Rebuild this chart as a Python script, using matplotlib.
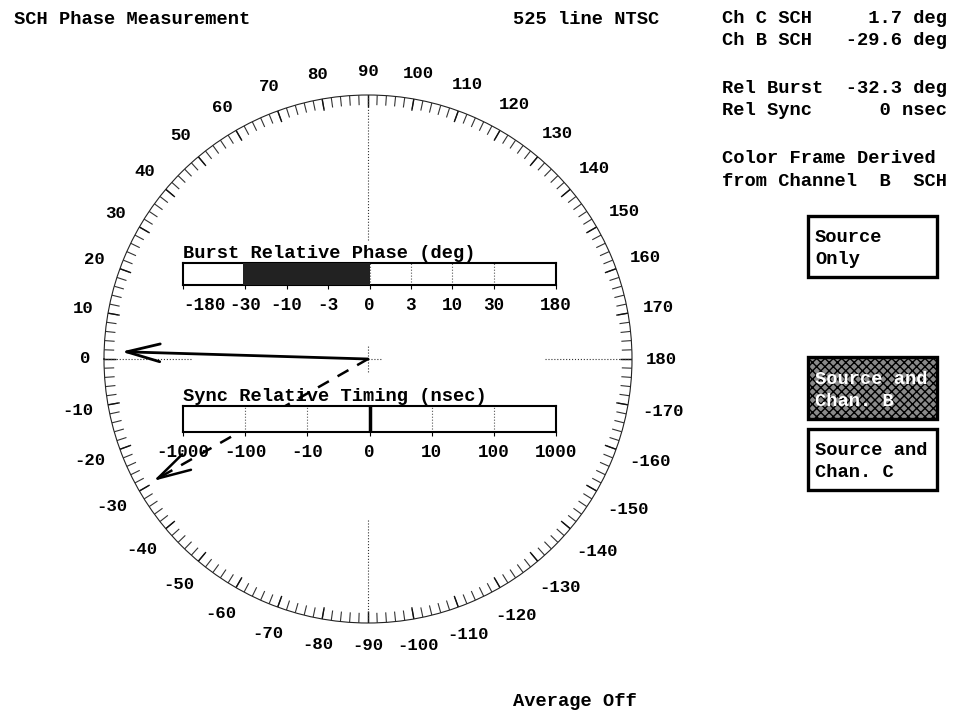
import numpy as np
import matplotlib
matplotlib.use("Agg")
import matplotlib.pyplot as plt
from matplotlib.patches import Rectangle

# ---------------- data ----------------
dial_major = list(range(-170, 181, 10))          # labelled angles (deg)
dial_minor = list(range(-178, 181, 2))           # small ticks every 2 deg
ch_c_sch = 1.7                                   # deg, solid vector
ch_b_sch = -29.6                                 # deg, dashed vector
rel_burst = -32.3                                # deg
rel_sync = 0                                     # nsec
burst_ticks = [-180, -30, -10, -3, 0, 3, 10, 30, 180]
burst_pos = [-4.5, -3, -2, -1, 0, 1, 2, 3, 4.5]
sync_ticks = [-1000, -100, -10, 0, 10, 100, 1000]
sync_pos = [-3, -2, -1, 0, 1, 2, 3]
readout_lines = ["Ch C SCH     1.7 deg",
                 "Ch B SCH   -29.6 deg",
                 "Rel Burst  -32.3 deg",
                 "Rel Sync      0 nsec",
                 "Color Frame Derived",
                 "from Channel  B  SCH"]
buttons = [["Source", "Only"], ["Source and", "Chan. B"], ["Source and", "Chan. C"]]
button_active = [False, True, False]

# ---------------- style ----------------
plt.rcParams['font.family'] = ['Liberation Mono', 'DejaVu Sans Mono']
plt.rcParams['font.weight'] = 'bold'
FS = 13.5

W, H = 965, 713
fig = plt.figure(figsize=(W / 100, H / 100), dpi=100)

# overlay axes in pixel coordinates for free text / buttons
ov = fig.add_axes([0, 0, 1, 1])
ov.set_xlim(0, W)
ov.set_ylim(H, 0)
ov.axis('off')

ov.text(14, 24, "SCH Phase Measurement", fontsize=FS, va='baseline', ha='left')
ov.text(586, 24, "525 line NTSC", fontsize=FS, va='baseline', ha='center')
ov.text(513, 706, "Average Off", fontsize=FS, va='baseline', ha='left')

readout_y = [23, 45, 93, 115, 163, 186]
for s, y in zip(readout_lines, readout_y):
    ov.text(722, y, s, fontsize=FS, va='baseline', ha='left')

button_boxes = [(216, 277), (357, 419), (429, 490)]
for (y0, y1), lines, act in zip(button_boxes, buttons, button_active):
    ov.add_patch(Rectangle((808, y0), 129, y1 - y0,
                           facecolor='#8a8a8a' if act else 'white',
                           edgecolor='black', lw=2.4, hatch='xxxx' if act else None,
                           zorder=2))
    dy = (y1 - y0)
    ov.text(815, y0 + dy * 0.43, lines[0], fontsize=FS, va='baseline',
            color='white' if act else 'black', zorder=3)
    ov.text(815, y0 + dy * 0.79, lines[1], fontsize=FS, va='baseline',
            color='white' if act else 'black', zorder=3)

# ---------------- dial (polar) ----------------
cx, cy, R = 368, 359, 264
pax = fig.add_axes([(cx - R) / W, (H - cy - R) / H, 2 * R / W, 2 * R / H],
                   projection='polar')
pax.set_theta_zero_location('W')
pax.set_theta_direction(-1)
pax.set_ylim(0, 1)
pax.set_facecolor('none')
pax.grid(False)
pax.set_xticks([])
pax.set_yticks([])
pax.spines['polar'].set_linewidth(0.8)
pax.spines['polar'].set_color('#222222')

th_minor = np.deg2rad(dial_minor)
th_major = np.deg2rad(dial_major)
pax.vlines(th_minor, 0.962, 1.0, colors='#333333', lw=0.8)
pax.vlines(th_major, 0.955, 1.012, colors='#111111', lw=1.0)

for a in dial_major:
    phi = np.deg2rad(180 - a)
    s = str(a)
    w = len(s) * 10.3
    off = 14 + abs(np.cos(phi)) * w / 2 + abs(np.sin(phi)) * 9
    pax.text(np.deg2rad(a), 1 + off / R, s, ha='center', va='center',
             fontsize=12.5, clip_on=False)

# crosshair spokes (dotted)
spoke_dirs = [90, -90, 0, 180]
spoke_inner = [0.45, 0.61, 0.67, 0.67]
for d, r0 in zip(spoke_dirs, spoke_inner):
    pax.vlines(np.deg2rad(d), r0, 1.0, colors='#333333', lw=0.8, linestyles=':')
    pax.vlines(np.deg2rad(d), 0, 0.05, colors='#333333', lw=0.8, linestyles=':')

# vectors
tip = 0.935
pax.annotate('', xy=(np.deg2rad(ch_c_sch), tip), xytext=(0, 0),
             arrowprops=dict(arrowstyle='->,head_length=1.2,head_width=0.32',
                             lw=2.0, color='black', mutation_scale=20,
                             shrinkA=0, shrinkB=0))
thb = np.deg2rad(ch_b_sch)
pax.plot([thb, thb], [0, tip * 0.97], color='black', lw=1.8, ls=(0, (5, 4)))
pax.annotate('', xy=(thb, tip), xytext=(thb, 0.9),
             arrowprops=dict(arrowstyle='->,head_length=1.2,head_width=0.32',
                             lw=1.8, color='black', mutation_scale=20,
                             shrinkA=0, shrinkB=0))


# ---------------- bar scales ----------------
def make_funcs(ticks, pos):
    t = np.array(ticks, float)
    p = np.array(pos, float)
    tp, pp = t[t > 0], p[t > 0]
    first, fpos = tp[0], pp[0]

    def fwd(x):
        x = np.asarray(x, float)
        a = np.abs(x)
        lin = a / first * fpos
        lg = np.interp(np.log(np.maximum(a, first)), np.log(tp), pp)
        return np.sign(x) * np.where(a < first, lin, lg)

    def inv(y):
        y = np.asarray(y, float)
        b = np.abs(y)
        lin = b / fpos * first
        lg = np.exp(np.interp(np.maximum(b, fpos), pp, np.log(tp)))
        return np.sign(y) * np.where(b < fpos, lin, lg)
    return fwd, inv


def setup_bar(rect, ticks, pos, title):
    ax = fig.add_axes(rect)
    ax.set_xscale('function', functions=make_funcs(ticks, pos))
    ax.set_xlim(ticks[0], ticks[-1])
    ax.set_ylim(0, 1)
    ax.set_yticks([])
    ax.set_xticks(ticks, [str(t) for t in ticks])
    ax.minorticks_off()
    ax.tick_params(axis='x', direction='out', length=3, width=0.8,
                   pad=5.5, labelsize=12.7)
    for sp in ax.spines.values():
        sp.set_linewidth(1.5)
    ax.vlines(ticks[1:-1], 0, 1, colors='#555555', lw=0.8, linestyles=':')
    ax.annotate(title, xy=(0, 1), xycoords='axes fraction', xytext=(0, 1),
                textcoords='offset points', ha='left', va='bottom',
                fontsize=FS)
    return ax


bax = setup_bar([183 / W, 1 - 285 / H, 373 / W, 22 / H], burst_ticks, burst_pos,
                "Burst Relative Phase (deg)")
bax.barh(0.5, 0 - rel_burst, left=rel_burst, height=1.0,
         color='#222222', edgecolor='none', zorder=3)
bax.get_xticklabels()[0].set_horizontalalignment('left')

sax = setup_bar([183 / W, 1 - 432 / H, 373 / W, 26 / H], sync_ticks, sync_pos,
                "Sync Relative Timing (nsec)")
sax.vlines(rel_sync, 0, 1, colors='black', lw=2.5, zorder=3)

fig.savefig("out.png", dpi=100)
